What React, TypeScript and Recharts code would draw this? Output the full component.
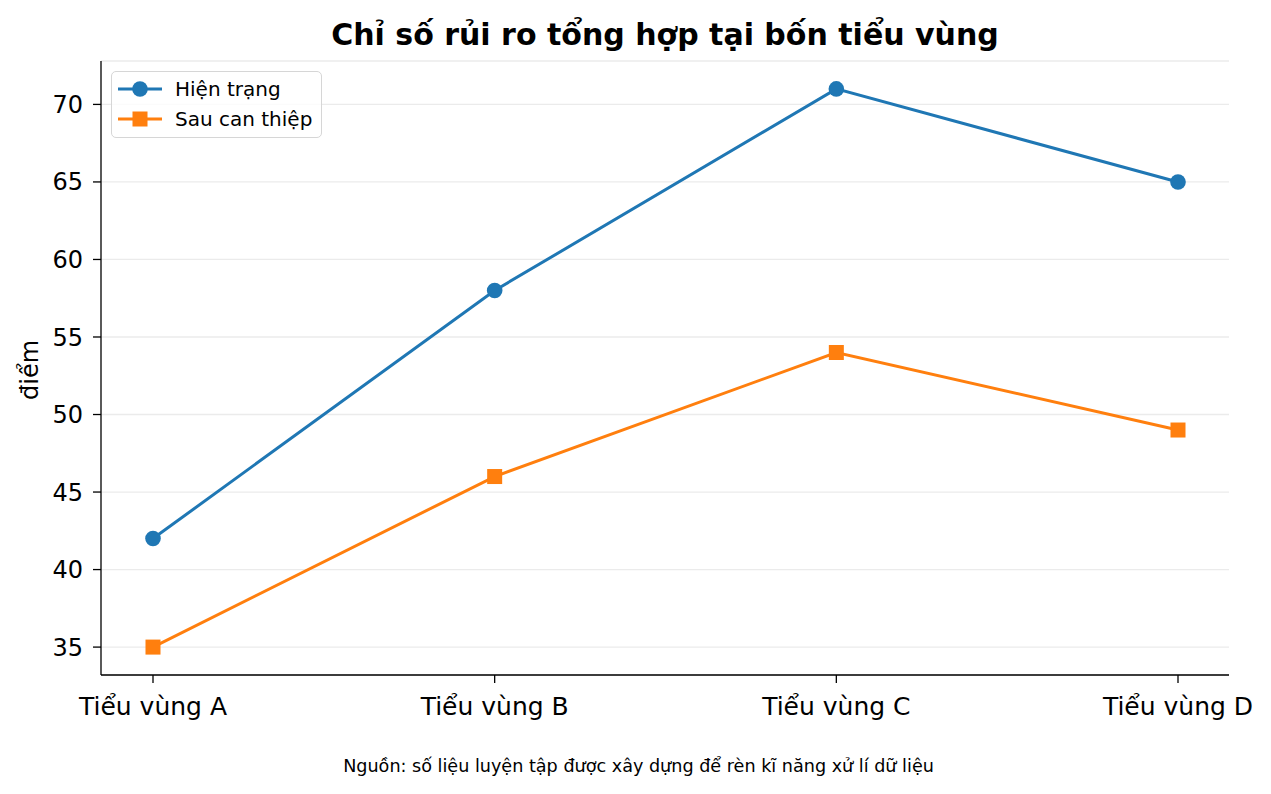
import React from "react";
import { LineChart, Line, XAxis, YAxis, CartesianGrid } from "recharts";

const categories = ["Tiểu vùng A", "Tiểu vùng B", "Tiểu vùng C", "Tiểu vùng D"];
const hienTrang = [42, 58, 71, 65];
const sauCanThiep = [35, 46, 54, 49];
const yTicks = [35, 40, 45, 50, 55, 60, 65, 70];

const data = categories.map((c, i) => ({ name: c, a: hienTrang[i], b: sauCanThiep[i] }));

const FONT = "DejaVu Sans, sans-serif";
const BLUE = "#1f77b4";
const ORANGE = "#ff7f0e";

const SquareDot = (props: any) => {
  const { cx, cy } = props;
  if (cx == null || cy == null) return null;
  return <rect x={cx - 7.5} y={cy - 7.5} width={15} height={15} fill={ORANGE} />;
};

const CircleDot = (props: any) => {
  const { cx, cy } = props;
  if (cx == null || cy == null) return null;
  return <circle cx={cx} cy={cy} r={7.8} fill={BLUE} />;
};

const legendItems = [
  { label: "Hiện trạng", color: BLUE, shape: "circle" },
  { label: "Sau can thiệp", color: ORANGE, shape: "square" },
];

const LegendBox = () => (
  <div
    style={{
      position: "absolute",
      left: 111,
      top: 71,
      width: 211,
      height: 67,
      border: "1.5px solid #d6d6d6",
      borderRadius: 5,
      background: "rgba(255,255,255,0.8)",
      fontFamily: FONT,
      fontSize: 20,
      color: "#000",
      boxSizing: "border-box",
      paddingTop: 2,
    }}
  >
    {legendItems.map((it) => (
      <div key={it.label} style={{ display: "flex", alignItems: "center", height: 30 }}>
        <svg width={44} height={20} style={{ marginLeft: 6, marginRight: 13 }}>
          <line x1={0} y1={10} x2={44} y2={10} stroke={it.color} strokeWidth={3} />
          {it.shape === "circle" ? (
            <circle cx={22} cy={10} r={7.8} fill={it.color} />
          ) : (
            <rect x={14.5} y={2.5} width={15} height={15} fill={it.color} />
          )}
        </svg>
        <span style={{ whiteSpace: "nowrap" }}>{it.label}</span>
      </div>
    ))}
  </div>
);

export default function App() {
  return (
    <div style={{ position: "absolute", left: 0, top: 0, width: 1271, height: 794, background: "#fff" }}>
      <LineChart
        width={1271}
        height={794}
        data={data}
        margin={{ top: 61, right: 42, bottom: 79, left: 41 }}
        style={{ fontFamily: FONT }}
      >
        <CartesianGrid horizontal vertical={false} stroke="#ebebeb" strokeWidth={1.3} />
        <XAxis
          dataKey="name"
          type="category"
          padding={{ left: 52, right: 51 }}
          tick={{ fill: "#000", fontSize: 25, fontFamily: FONT }}
          tickLine={{ stroke: "#000", strokeWidth: 1.3 }}
          axisLine={{ stroke: "#000", strokeWidth: 1.3 }}
          tickSize={8}
          tickMargin={14}
          height={40}
          interval={0}
        />
        <XAxis xAxisId="top" dataKey="name" orientation="top" tick={false} tickLine={false} axisLine={{ stroke: "#000", strokeWidth: 1.3 }} height={0} />
        <YAxis
          domain={[33.2, 72.8]}
          ticks={yTicks}
          type="number"
          allowDataOverflow
          tick={{ fill: "#000", fontSize: 24, fontFamily: FONT }}
          tickLine={{ stroke: "#000", strokeWidth: 1.3 }}
          axisLine={{ stroke: "#000", strokeWidth: 1.3 }}
          tickSize={8}
          tickMargin={10}
          width={60}
        />
        <YAxis yAxisId="r" orientation="right" domain={[33.2, 72.8]} type="number" tick={false} tickLine={false} axisLine={{ stroke: "#000", strokeWidth: 1.3 }} width={0} />
        <Line
          dataKey="a"
          name="Hiện trạng"
          stroke={BLUE}
          strokeWidth={3}
          dot={<CircleDot />}
          activeDot={false}
          isAnimationActive={false}
        />
        <Line
          dataKey="b"
          name="Sau can thiệp"
          stroke={ORANGE}
          strokeWidth={3}
          dot={<SquareDot />}
          activeDot={false}
          isAnimationActive={false}
        />
      </LineChart>
      <LegendBox />
      <div
        style={{
          position: "absolute",
          left: 101,
          width: 1128,
          top: 17,
          textAlign: "center",
          fontFamily: FONT,
          fontWeight: "bold",
          fontSize: 30,
          lineHeight: "36px",
          whiteSpace: "nowrap",
        }}
      >
        Chỉ số rủi ro tổng hợp tại bốn tiểu vùng
      </div>
      <div
        style={{
          position: "absolute",
          left: 0,
          width: 1271,
          top: 754,
          textAlign: "center",
          fontFamily: FONT,
          fontSize: 17.6,
          lineHeight: "24px",
          whiteSpace: "nowrap",
        }}
      >
        <span style={{ position: "relative", left: 3 }}>Nguồn: số liệu luyện tập được xây dựng để rèn kĩ năng xử lí dữ liệu</span>
      </div>
      <div
        style={{
          position: "absolute",
          left: 30,
          top: 370,
          transform: "translate(-50%, -50%) rotate(-90deg)",
          fontFamily: FONT,
          fontSize: 24,
          lineHeight: "28px",
          whiteSpace: "nowrap",
        }}
      >
        điểm
      </div>
    </div>
  );
}
